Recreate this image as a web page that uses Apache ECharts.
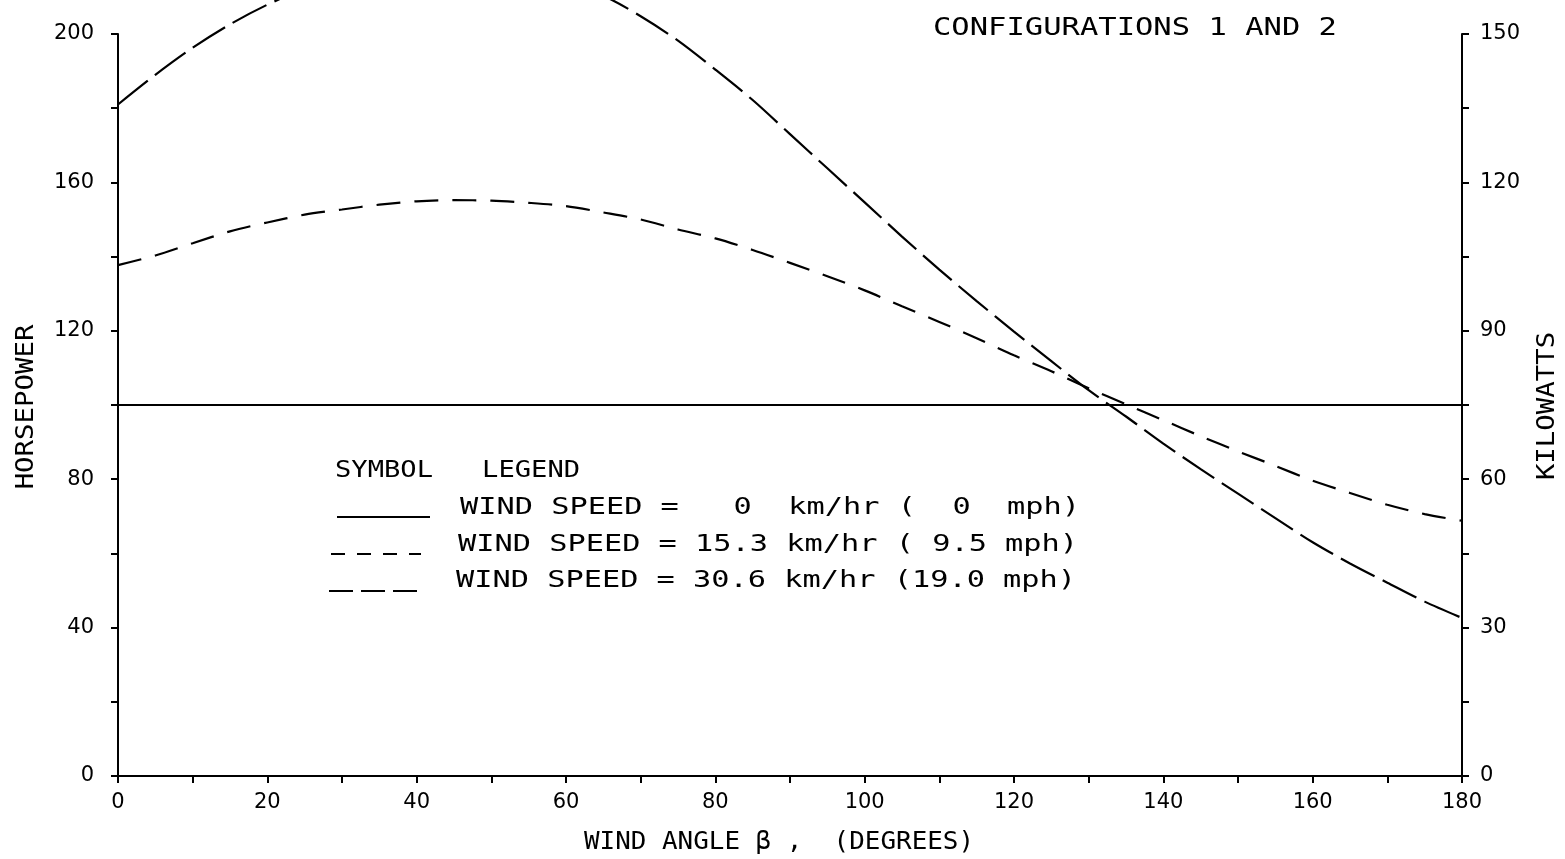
<!DOCTYPE html>
<html><head><meta charset="utf-8">
<script src="https://cdn.jsdelivr.net/npm/echarts@6/dist/echarts.min.js"></script>
<style>html,body{margin:0;padding:0;background:#fff}#c{width:1565px;height:859px}</style>
</head><body><div id="c"></div>
<script>
// ---- data ----
const angles = [0,5,10,15,20,25,30,35,40,45,50,55,60,65,70,75,80,85,90,95,100,105,110,115,120,125,130,135,140,145,150,155,160,165,170,175,180];
const angles0 = [0, 180];
const hp0 = [100, 100];
const hp153 = [137.7,140.3,143.6,146.8,149.2,151.3,152.7,154.0,154.9,155.2,155.1,154.5,153.6,151.9,150.0,147.3,144.9,141.8,138.3,134.7,130.9,126.6,122.4,118.0,113.4,109.1,104.5,100.2,95.9,91.6,87.5,83.6,79.6,76.3,73.1,70.6,68.8];
const hp306 = [181.0,189.0,196.3,202.6,207.9,212.2,215.5,217.8,219.0,219.2,218.3,216.4,213.8,210.3,204.8,198.2,190.4,182.2,173.0,163.8,154.6,145.4,136.5,128.0,119.8,111.8,104.0,96.9,89.6,82.7,76.1,69.5,63.0,57.3,52.1,47.0,42.6];
const xTicks = [0,20,40,60,80,100,120,140,160,180];
const hpTicks = [0,40,80,120,160,200];
const kwTicks = [0,30,60,90,120,150];
const titleText = 'CONFIGURATIONS 1 AND 2';
const xName = 'WIND ANGLE \u03B2 ,  (DEGREES)';
const yNameLeft = 'HORSEPOWER';
const yNameRight = 'KILOWATTS';
const legendTitle = 'SYMBOL   LEGEND';
const legendRows = [
  'WIND SPEED =   0  km/hr (  0  mph)',
  'WIND SPEED = 15.3 km/hr ( 9.5 mph)',
  'WIND SPEED = 30.6 km/hr (19.0 mph)'
];

// ---- chart ----
const MONO = '"DejaVu Sans Mono", monospace';
const SANS = '"DejaVu Sans", sans-serif';
const axisCommon = {
  axisLine: { show: true, onZero: false, lineStyle: { color: '#000', width: 2 } },
  axisTick: { show: true, inside: false, length: 7, lineStyle: { color: '#000', width: 2 } },
  splitLine: { show: false }
};
const chart = echarts.init(document.getElementById('c'));
const dashA = [24, 14];
const dashB = [38, 9];
function pairs(xs, ys) { return xs.map((x, i) => [x, ys[i]]); }
function txt(text, x, y, size, sx, opts) {
  return Object.assign({
    type: 'text', x: x, y: y, scaleX: sx, silent: true,
    style: { text: text, font: size + 'px ' + MONO, fill: '#000', align: 'left', verticalAlign: 'middle' }
  }, opts || {});
}
const option = {
  animation: false,
  backgroundColor: '#fff',
  grid: { left: 118, right: 103, top: 34, bottom: 83 },
  xAxis: Object.assign({
    type: 'value', min: 0, max: 180, interval: 10,
    axisLabel: { margin: 16, color: '#000', fontFamily: SANS, fontSize: 21,
      formatter: v => xTicks.indexOf(v) >= 0 ? String(v) : '' }
  }, axisCommon),
  yAxis: [
    Object.assign({
      type: 'value', min: 0, max: 200, interval: 20, position: 'left',
      axisLabel: { margin: 24, color: '#000', fontFamily: SANS, fontSize: 21,
        formatter: v => hpTicks.indexOf(v) >= 0 ? String(v) : '' }
    }, axisCommon),
    Object.assign({
      type: 'value', min: 0, max: 150, interval: 15, position: 'right',
      axisLabel: { margin: 18, color: '#000', fontFamily: SANS, fontSize: 21,
        formatter: v => kwTicks.indexOf(v) >= 0 ? String(v) : '' }
    }, axisCommon)
  ],
  series: [
    { name: legendRows[0], type: 'line', yAxisIndex: 0, data: pairs(angles0, hp0),
      symbol: 'none', lineStyle: { color: '#000', width: 2, type: 'solid' } },
    { name: legendRows[1], type: 'line', yAxisIndex: 0, data: pairs(angles, hp153),
      symbol: 'none', smooth: 0.3, lineStyle: { color: '#000', width: 2.2, type: dashA } },
    { name: legendRows[2], type: 'line', yAxisIndex: 0, data: pairs(angles, hp306),
      symbol: 'none', smooth: 0.3, clip: false, lineStyle: { color: '#000', width: 2.2, type: dashB } }
  ],
  graphic: [
    txt(titleText, 933, 28, 25, 1.22),
    txt(xName, 779, 843, 24, 1.08, { style: { text: xName, font: '24px ' + MONO, fill: '#000', align: 'center', verticalAlign: 'middle' } }),
    txt(yNameLeft, 27, 407, 24, 1.14, { rotation: Math.PI / 2, style: { text: yNameLeft, font: '24px ' + MONO, fill: '#000', align: 'center', verticalAlign: 'middle' } }),
    txt(yNameRight, 1548, 406, 24, 1.14, { rotation: Math.PI / 2, style: { text: yNameRight, font: '24px ' + MONO, fill: '#000', align: 'center', verticalAlign: 'middle' } }),
    txt(legendTitle, 335, 471, 23, 1.18),
    txt(legendRows[0], 460, 508, 23, 1.317),
    txt(legendRows[1], 458, 545, 23, 1.317),
    txt(legendRows[2], 456, 581, 23, 1.317),
    { type: 'line', silent: true, shape: { x1: 337, y1: 517, x2: 430, y2: 517 }, style: { stroke: '#000', lineWidth: 2 } },
    { type: 'line', silent: true, shape: { x1: 331, y1: 554, x2: 421, y2: 554 }, style: { stroke: '#000', lineWidth: 2, lineDash: [14, 12] } },
    { type: 'line', silent: true, shape: { x1: 329, y1: 591, x2: 423, y2: 591 }, style: { stroke: '#000', lineWidth: 2, lineDash: [24, 8] } }
  ]
};
chart.setOption(option);
</script>
</body></html>
